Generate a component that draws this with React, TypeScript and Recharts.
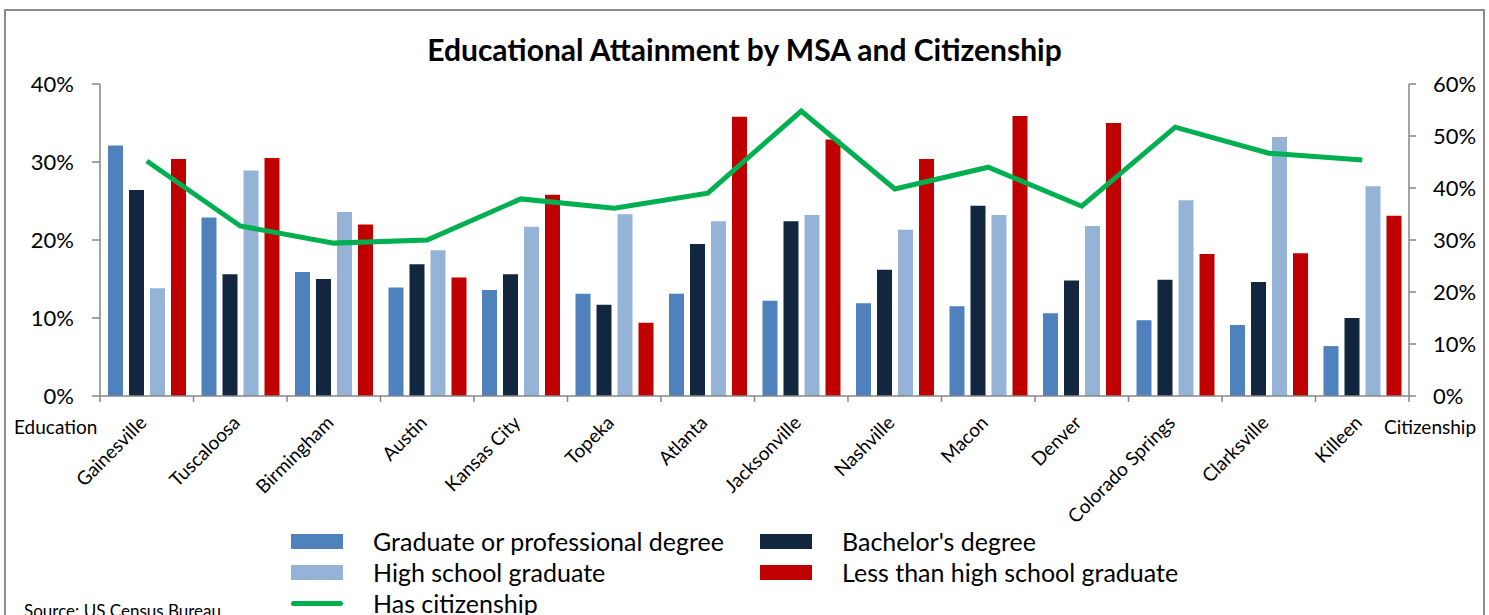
import React from 'react';
import { ComposedChart, Bar, Line, XAxis, YAxis, Legend } from 'recharts';

// values (percent)
const cities = [
  'Gainesville', 'Tuscaloosa', 'Birmingham', 'Austin', 'Kansas City', 'Topeka', 'Atlanta',
  'Jacksonville', 'Nashville', 'Macon', 'Denver', 'Colorado Springs', 'Clarksville', 'Killeen',
];
const graduate = [32.1, 22.9, 15.9, 13.9, 13.6, 13.1, 13.1, 12.2, 11.9, 11.5, 10.6, 9.7, 9.1, 6.4];
const bachelor = [26.4, 15.6, 15.0, 16.9, 15.6, 11.7, 19.5, 22.4, 16.2, 24.4, 14.8, 14.9, 14.6, 10.0];
const highSchool = [13.8, 28.9, 23.6, 18.7, 21.7, 23.3, 22.4, 23.2, 21.3, 23.2, 21.8, 25.1, 33.2, 26.9];
const lessThanHS = [30.4, 30.5, 22.0, 15.2, 25.8, 9.4, 35.8, 32.9, 30.4, 35.9, 35.0, 18.2, 18.3, 23.1];
const citizenship = [45.2, 32.7, 29.4, 30.0, 37.9, 36.1, 39.0, 54.8, 39.8, 44.0, 36.5, 51.7, 46.7, 45.4];

const leftTicks = [0, 10, 20, 30, 40];
const rightTicks = [0, 10, 20, 30, 40, 50, 60];

const data = cities.map((city, i) => ({
  city,
  graduate: graduate[i],
  bachelor: bachelor[i],
  highSchool: highSchool[i],
  lessThanHS: lessThanHS[i],
  citizenship: citizenship[i],
}));

const FONT = 'Lato, "Open Sans", sans-serif';
const AXIS = '#868686';
const PLOT_LEFT = 100;
const PLOT_RIGHT = 1409;
const AXIS_Y = 396;
const BAND = (PLOT_RIGHT - PLOT_LEFT) / cities.length;

const legendOrder = [
  'Graduate or professional degree',
  "Bachelor's degree",
  'High school graduate',
  'Less than high school graduate',
  'Has citizenship',
];

const CityTick = (props: any) => {
  const { x, y, payload, index } = props;
  const left = x - BAND / 2;
  const tx = x + 1;
  const ty = y + 28;
  return (
    <g>
      <line x1={left} y1={y} x2={left} y2={y + 6} stroke={AXIS} strokeWidth={1.5} />
      {index === cities.length - 1 && (
        <line x1={x + BAND / 2} y1={y} x2={x + BAND / 2} y2={y + 6} stroke={AXIS} strokeWidth={1.5} />
      )}
      <text
        x={tx}
        y={ty}
        textAnchor="end"
        transform={`rotate(-45, ${tx}, ${ty})`}
        fontFamily={FONT}
        fontSize={19}
        fill="#000"
      >
        {payload.value}
      </text>
    </g>
  );
};

const LegendGrid = (props: any) => {
  const items = [...(props.payload || [])].sort(
    (a: any, b: any) => legendOrder.indexOf(a.value) - legendOrder.indexOf(b.value)
  );
  return (
    <div style={{ position: 'relative', width: 900, height: 95 }}>
      {items.map((item: any, i: number) => {
        const col = i % 2;
        const row = Math.floor(i / 2);
        const isLine = item.type === 'line';
        return (
          <div
            key={item.value}
            style={{
              position: 'absolute',
              left: col * 469,
              top: row * 31,
              height: 31,
              display: 'flex',
              alignItems: 'center',
              fontFamily: FONT,
              fontSize: 25,
              lineHeight: '31px',
              color: '#000',
              whiteSpace: 'nowrap',
            }}
          >
            <span
              style={{
                display: 'inline-block',
                width: 52,
                height: isLine ? 5 : 15,
                borderRadius: isLine ? 3 : 0,
                background: item.color,
                marginRight: 30,
              }}
            />
            {item.value}
          </div>
        );
      })}
    </div>
  );
};

export default function App() {
  return (
    <div style={{ position: 'absolute', left: 0, top: 0, width: 1489, height: 615, overflow: 'hidden', background: '#fff' }}>
      <div
        style={{
          position: 'absolute',
          left: 4,
          top: 9,
          width: 1481,
          height: 700,
          border: '2px solid #8c8c8c',
          boxSizing: 'border-box',
        }}
      />
      <div
        style={{
          position: 'absolute',
          left: 0,
          width: 1489,
          top: 31,
          textAlign: 'center',
          fontFamily: FONT,
          fontWeight: 700,
          fontSize: 30,
          color: '#000',
        }}
      >
        Educational Attainment by MSA and Citizenship
      </div>
      <ComposedChart
        width={1489}
        height={615}
        data={data}
        margin={{ top: 84, right: 0, bottom: 0, left: 0 }}
        barGap={6}
        barSize={15}
      >
        <XAxis
          dataKey="city"
          height={615 - AXIS_Y}
          interval={0}
          tickLine={false}
          tickSize={0}
          tickMargin={0}
          axisLine={{ stroke: AXIS, strokeWidth: 1.5 }}
          tick={<CityTick />}
        />
        <YAxis
          yAxisId="left"
          orientation="left"
          width={PLOT_LEFT}
          domain={[0, 40]}
          ticks={leftTicks}
          tickFormatter={(v: number) => `${v}%`}
          axisLine={{ stroke: AXIS, strokeWidth: 1.5 }}
          tickLine={{ stroke: AXIS, strokeWidth: 1.5 }}
          tickSize={8}
          tickMargin={18}
          tick={{ fontFamily: FONT, fontSize: 22, fill: '#000' }}
        />
        <YAxis
          yAxisId="right"
          orientation="right"
          width={1489 - PLOT_RIGHT}
          domain={[0, 60]}
          ticks={rightTicks}
          tickFormatter={(v: number) => `${v}%`}
          axisLine={{ stroke: AXIS, strokeWidth: 1.5 }}
          tickLine={{ stroke: AXIS, strokeWidth: 1.5 }}
          tickSize={7}
          tickMargin={17}
          tick={{ fontFamily: FONT, fontSize: 22, fill: '#000' }}
        />
        <Bar yAxisId="left" dataKey="graduate" name="Graduate or professional degree" fill="#4F81BD" isAnimationActive={false} />
        <Bar yAxisId="left" dataKey="bachelor" name="Bachelor's degree" fill="#13263F" isAnimationActive={false} />
        <Bar yAxisId="left" dataKey="highSchool" name="High school graduate" fill="#95B3D7" isAnimationActive={false} />
        <Bar yAxisId="left" dataKey="lessThanHS" name="Less than high school graduate" fill="#C00000" isAnimationActive={false} />
        <Line
          yAxisId="right"
          dataKey="citizenship"
          name="Has citizenship"
          stroke="#00B050"
          strokeWidth={5}
          dot={false}
          legendType="line"
          isAnimationActive={false}
        />
        <Legend
          layout="horizontal"
          verticalAlign="middle"
          align="center"
          wrapperStyle={{ top: 526, left: 291, width: 900, height: 95 }}
          content={<LegendGrid />}
        />
      </ComposedChart>
      <div style={{ position: 'absolute', left: 24, top: 600, fontFamily: FONT, fontSize: 17, color: '#000', whiteSpace: 'nowrap' }}>
        Source: US Census Bureau
      </div>
      <div style={{ position: 'absolute', left: 14, top: 415, fontFamily: FONT, fontSize: 19, color: '#000' }}>
        Education
      </div>
      <div style={{ position: 'absolute', left: 1384, top: 415, fontFamily: FONT, fontSize: 19, color: '#000' }}>
        Citizenship
      </div>
    </div>
  );
}
